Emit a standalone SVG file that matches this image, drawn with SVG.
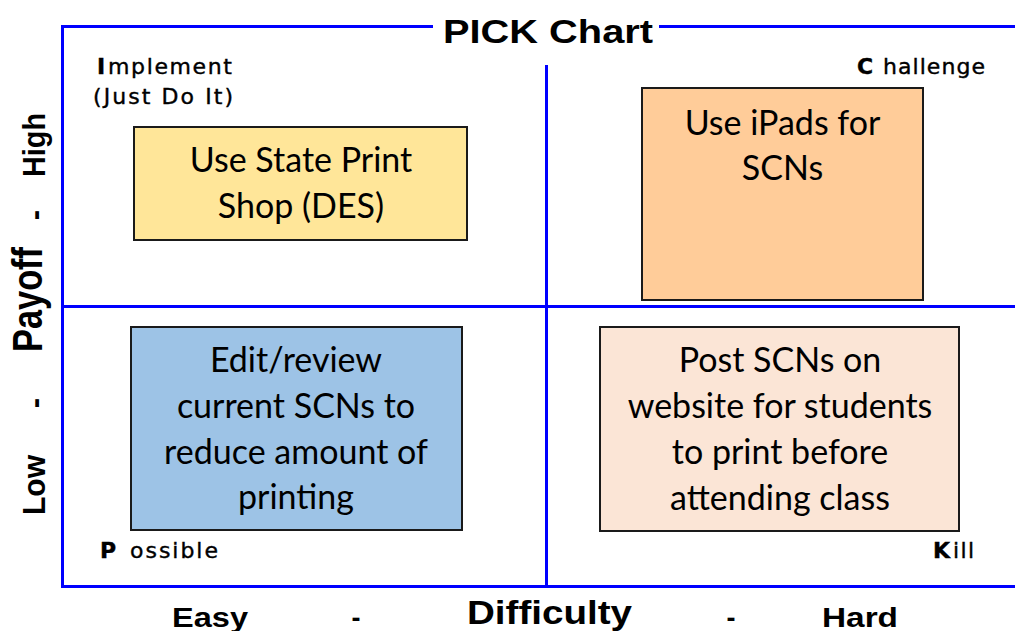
<svg xmlns="http://www.w3.org/2000/svg" width="1015" height="631" viewBox="0 0 1015 631">
  <style>
    .grid { stroke: #0000FF; stroke-width: 3; fill: none; }
    .box { stroke: #1a1a1a; stroke-width: 2; }
    .bt { font-family: Lato, "Liberation Sans", sans-serif; font-size: 34px; fill: #000; text-anchor: middle; }
    .lbl { font-family: "DejaVu Sans", "Liberation Sans", sans-serif; font-size: 22px; fill: #000; stroke: #000; stroke-width: 0.4; }
    .b { font-weight: bold; }
    .ax { font-family: "Liberation Sans", Arial, sans-serif; font-weight: bold; fill: #000; }
  </style>
  <rect width="1015" height="631" fill="#ffffff"/>

  <g id="connectors">
    <path class="grid" d="M433 26.5 H62.5 V586.5 H1015"/>
    <path class="grid" d="M659 26.5 H1015"/>
    <path class="grid" d="M62.5 306.5 H1015"/>
    <path class="grid" d="M546.5 65 V586.5"/>
  </g>

  <g id="title">
    <text class="ax" x="443" y="43" font-size="34" textLength="210" lengthAdjust="spacingAndGlyphs">PICK Chart</text>
  </g>

  <g id="axis-labels">
    <text class="ax" x="172" y="627" font-size="27" textLength="76" lengthAdjust="spacingAndGlyphs">Easy</text>
    <text class="ax" x="356" y="627" font-size="27" text-anchor="middle">-</text>
    <text class="ax" x="467" y="624" font-size="34" textLength="165" lengthAdjust="spacingAndGlyphs">Difficulty</text>
    <text class="ax" x="731" y="627" font-size="27" text-anchor="middle">-</text>
    <text class="ax" x="822" y="627" font-size="27" textLength="76" lengthAdjust="spacingAndGlyphs">Hard</text>

    <text class="ax" transform="translate(45,515) rotate(-90)" font-size="31" textLength="60" lengthAdjust="spacingAndGlyphs">Low</text>
    <text class="ax" transform="translate(45,403) rotate(-90)" font-size="31" text-anchor="middle">-</text>
    <text class="ax" transform="translate(42,352) rotate(-90)" font-size="42" textLength="105" lengthAdjust="spacingAndGlyphs">Payoff</text>
    <text class="ax" transform="translate(45,215) rotate(-90)" font-size="31" text-anchor="middle">-</text>
    <text class="ax" transform="translate(45,177) rotate(-90)" font-size="31" textLength="64" lengthAdjust="spacingAndGlyphs">High</text>
  </g>

  <g id="quadrant-labels">
    <text class="lbl" x="97" y="74"><tspan class="b">I</tspan><tspan x="108" textLength="124" lengthAdjust="spacing">mplement</tspan></text>
    <text class="lbl" x="93" y="104" textLength="140" lengthAdjust="spacing">(Just Do It)</text>
    <text class="lbl" x="857" y="74"><tspan class="b">C</tspan><tspan x="883" textLength="102" lengthAdjust="spacing">hallenge</tspan></text>
    <text class="lbl" x="100" y="558"><tspan class="b">P</tspan><tspan x="130" textLength="88" lengthAdjust="spacing">ossible</tspan></text>
    <text class="lbl" x="933" y="558"><tspan class="b">K</tspan><tspan x="953" textLength="21" lengthAdjust="spacing">ill</tspan></text>
  </g>

  <g id="node-implement">
    <rect class="box" x="134" y="127" width="333" height="113" fill="#FFE699"/>
    <text class="bt" x="301" y="172">Use State Print</text>
    <text class="bt" x="301" y="218">Shop (DES)</text>
  </g>

  <g id="node-challenge">
    <rect class="box" x="642" y="88" width="281" height="212" fill="#FFCC99"/>
    <text class="bt" x="782.5" y="135">Use iPads for</text>
    <text class="bt" x="782.5" y="180">SCNs</text>
  </g>

  <g id="node-possible">
    <rect class="box" x="131" y="327" width="331" height="203" fill="#9DC3E6"/>
    <text class="bt" x="296" y="372">Edit/review</text>
    <text class="bt" x="296" y="418">current SCNs to</text>
    <text class="bt" x="296" y="464">reduce amount of</text>
    <text class="bt" x="296" y="509">printing</text>
  </g>

  <g id="node-kill">
    <rect class="box" x="600" y="327" width="359" height="204" fill="#FBE5D6"/>
    <text class="bt" x="780" y="372">Post SCNs on</text>
    <text class="bt" x="780" y="418">website for students</text>
    <text class="bt" x="780" y="464">to print before</text>
    <text class="bt" x="780" y="510">attending class</text>
  </g>
</svg>
